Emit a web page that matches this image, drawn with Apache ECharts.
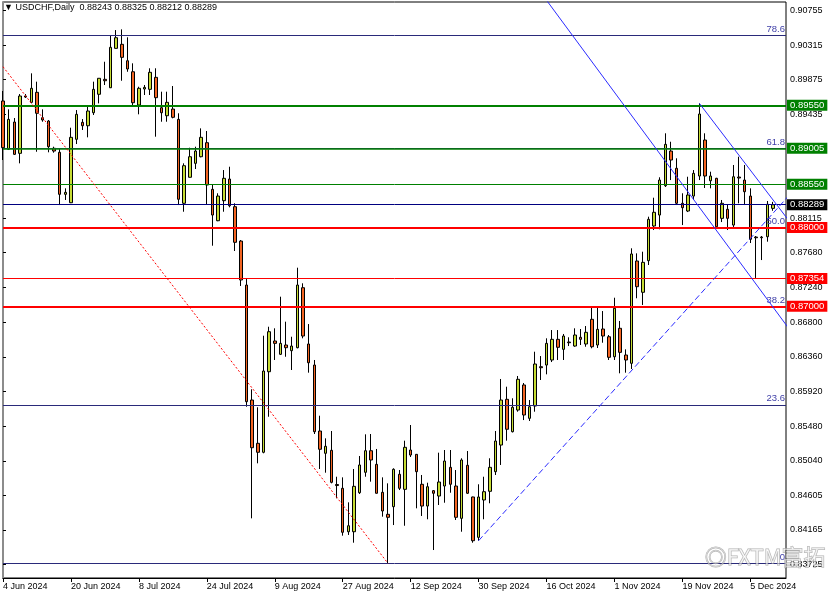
<!DOCTYPE html>
<html><head><meta charset="utf-8">
<script src="https://cdn.jsdelivr.net/npm/echarts@6/dist/echarts.min.js"></script>
<style>html,body{margin:0;padding:0;background:#fff}#c{width:832px;height:596px}</style>
</head><body><div id="c"></div>
<script>
const symbolName = 'USDCHF';
const timeframe = 'Daily';
// daily bars 4 Jun 2024 .. 11 Dec 2024 (index 0..136)
const opens = [0.89605,0.88992,0.89338,0.88941,0.89668,0.89588,0.89715,0.89393,0.89351,0.89005,
0.88954,0.88421,0.88314,0.89119,0.89334,0.89291,0.89456,0.89690,0.89880,0.89773,
0.90273,0.90324,0.90116,0.89976,0.89554,0.89757,0.89753,0.89905,0.89520,0.89418,
0.89503,0.89372,0.88307,0.88637,0.88814,0.88898,0.89076,0.88484,0.88086,0.88340,
0.88615,0.88264,0.87828,0.87270,0.85811,0.85262,0.85148,0.86170,0.86560,0.86391,
0.86509,0.86437,0.86475,0.87236,0.86522,0.86255,0.85418,0.85135,0.85173,0.84739,
0.84691,0.84140,0.84140,0.84635,0.84894,0.85168,0.84995,0.84640,0.84361,0.84458,
0.84869,0.84678,0.85177,0.85122,0.84742,0.84466,0.84661,0.84593,0.84720,0.84957,
0.84720,0.84310,0.84983,0.84581,0.84069,0.84543,0.84653,0.84902,0.85240,0.85820,
0.85409,0.85684,0.86002,0.85579,0.85735,0.86234,0.86255,0.86319,0.86581,0.86454,
0.86547,0.86496,0.86607,0.86522,0.86835,0.86509,0.86712,0.86614,0.86360,0.86721,
0.86382,0.86277,0.87575,0.87178,0.87579,0.88019,0.88158,0.88530,0.88970,0.88751,
0.88307,0.88209,0.88399,0.88653,0.89110,0.88593,0.88624,0.88116,0.88231,0.88031,
0.88640,0.88602,0.88399,0.87879,0.87870,0.87883,0.88243];
const closes = [0.89012,0.89372,0.88928,0.89668,0.89655,0.89766,0.89449,0.89364,0.89025,0.88970,
0.88421,0.88446,0.89144,0.89436,0.89291,0.89478,0.89753,0.89893,0.89862,0.90286,
0.90408,0.90159,0.90011,0.89583,0.89766,0.89778,0.89969,0.89647,0.89456,0.89588,
0.89398,0.88358,0.88784,0.88898,0.88970,0.89144,0.88539,0.88158,0.88399,0.88624,
0.88276,0.87812,0.87334,0.85790,0.85206,0.85148,0.86179,0.86678,0.86530,0.86530,
0.86475,0.86496,0.87270,0.86623,0.86284,0.85409,0.85186,0.85224,0.84767,0.84726,
0.84133,0.84216,0.84716,0.84987,0.85168,0.85050,0.84628,0.84403,0.84323,0.84932,
0.84691,0.85211,0.85113,0.84902,0.84466,0.84711,0.84628,0.84771,0.85037,0.84742,
0.84323,0.85050,0.84628,0.84026,0.84581,0.84648,0.84957,0.85291,0.85811,0.85440,
0.85719,0.86074,0.85621,0.85726,0.86268,0.86221,0.86530,0.86581,0.86480,0.86623,
0.86538,0.86636,0.86581,0.86670,0.86487,0.86708,0.86623,0.86353,0.86975,0.86416,
0.86319,0.87664,0.87249,0.87558,0.88104,0.88193,0.88602,0.89055,0.88856,0.88307,
0.88251,0.88412,0.88687,0.89440,0.88653,0.88653,0.88010,0.88307,0.88116,0.88644,
0.88628,0.88454,0.87850,0.87870,0.87879,0.88294,0.88289];
const lows = [0.88856,0.88983,0.88920,0.88814,0.89643,0.89575,0.88961,0.89342,0.88954,0.88949,
0.88285,0.88349,0.88310,0.89059,0.89237,0.89144,0.89427,0.89575,0.89808,0.89770,
0.90270,0.89862,0.89976,0.89554,0.89436,0.89681,0.89681,0.89152,0.89342,0.89342,
0.89385,0.88285,0.88200,0.88635,0.88742,0.88890,0.88294,0.87769,0.88080,0.88200,
0.88256,0.87702,0.87258,0.85726,0.84310,0.85008,0.85135,0.85599,0.86319,0.86382,
0.86360,0.86192,0.86467,0.86594,0.86158,0.85380,0.84936,0.84889,0.84754,0.84564,
0.84090,0.84099,0.84001,0.84619,0.84838,0.84775,0.84625,0.84331,0.83739,0.84225,
0.84669,0.84216,0.85088,0.84437,0.84340,0.84298,0.83908,0.84479,0.84508,0.84635,
0.84289,0.84140,0.84619,0.84001,0.84026,0.84298,0.84501,0.84860,0.84987,0.85295,
0.85400,0.85663,0.85557,0.85545,0.85663,0.86065,0.86137,0.86293,0.86319,0.86319,
0.86496,0.86487,0.86509,0.86487,0.86467,0.86471,0.86538,0.86319,0.86319,0.86150,
0.86158,0.86205,0.87102,0.87017,0.87524,0.87968,0.87977,0.88514,0.88602,0.88285,
0.88031,0.88196,0.88349,0.88602,0.88501,0.88497,0.87993,0.88069,0.87968,0.87993,
0.88307,0.88285,0.87803,0.87360,0.87587,0.87820,0.88212];
const highs = [0.89732,0.89499,0.89389,0.89693,0.89693,0.89956,0.89850,0.89499,0.89364,0.89025,
0.89005,0.88497,0.89266,0.89490,0.89376,0.89541,0.89850,0.89895,0.90103,0.90442,
0.90505,0.90514,0.90413,0.90083,0.89786,0.89808,0.90020,0.90020,0.89723,0.89723,
0.89795,0.89449,0.88814,0.89012,0.89025,0.89258,0.89224,0.88552,0.88434,0.88729,
0.88771,0.88307,0.87841,0.87346,0.85947,0.85719,0.86627,0.86741,0.86721,0.87122,
0.86805,0.86614,0.87490,0.87292,0.86775,0.86319,0.85612,0.85325,0.85418,0.84838,
0.84830,0.84513,0.84936,0.85101,0.85376,0.85380,0.85190,0.84830,0.84754,0.84945,
0.84923,0.85295,0.85494,0.85125,0.84860,0.84762,0.84669,0.85143,0.85177,0.85177,
0.84923,0.85072,0.85164,0.84585,0.84742,0.84838,0.85072,0.85418,0.86078,0.85980,
0.85833,0.86116,0.86027,0.85811,0.86424,0.86369,0.86594,0.86699,0.86699,0.86649,
0.86607,0.86721,0.86712,0.86750,0.86987,0.86987,0.86940,0.86636,0.87109,0.86814,
0.86454,0.87736,0.87672,0.87693,0.88137,0.88378,0.88637,0.89195,0.89088,0.88878,
0.88434,0.88644,0.88729,0.89575,0.89195,0.88708,0.88630,0.88349,0.88298,0.88793,
0.88898,0.88793,0.88497,0.87892,0.87892,0.88336,0.88325];

const xTickIndex = [0,12,24,36,48,60,72,84,96,108,120,132];
const xTickLabels = ['4 Jun 2024','20 Jun 2024','8 Jul 2024','24 Jul 2024','9 Aug 2024','27 Aug 2024',
  '12 Sep 2024','30 Sep 2024','16 Oct 2024','1 Nov 2024','19 Nov 2024','5 Dec 2024'];
const yTickValues = [0.90755,0.90315,0.89875,0.89435,0.88115,0.87680,0.87240,0.86800,0.86360,
  0.85920,0.85480,0.85040,0.84605,0.84165,0.83725];

const levelValues = [0.89550,0.89005,0.88550,0.88289,0.88000,0.87354,0.87000];
const levelTypes  = ['res','res','res','bid','sup','sup','sup'];
const fibPrices = [0.83738,0.85750,0.86994,0.88000,0.89006,0.90438];
const fibNames  = ['0','23.6','38.2','50.0','61.8','78.6'];

const fibBaseLine  = [[0,0.90040],[68,0.83739]];
const risingLine   = [[84,0.84026],[140,0.88500]];
const fallingLineA = [[95,0.90981],[140,0.86601]];
const fallingLineB = [[123,0.89575],[140,0.87974]];

const levelStyle = {
  res: {color:'#008000', width:[2,1.5,1]},
  sup: {color:'#ff0000', width:[2,1,2]},
  bid: {color:'#000080', width:[1]}
};
const tagBg = {res:'#008000', sup:'#ff0000', bid:'#000000'};

const FONT = '"Liberation Sans", Arial, sans-serif';
const n = opens.length;
const candleData = opens.map((o,i)=>[i,o,closes[i],lows[i],highs[i]]);

const resCount = {res:0,sup:0,bid:0};
const levelMarks = levelValues.map((v,k)=>{
  const t = levelTypes[k];
  const w = levelStyle[t].width[resCount[t]++];
  return {
    yAxis: v,
    lineStyle:{color:levelStyle[t].color, width:w, type:'solid'},
    label:{show:true, position:'end', distance:1, formatter: v.toFixed(5),
      color:'#fff', backgroundColor: tagBg[t], padding:[1,3,0,3],
      fontSize:9.5, fontFamily:FONT, lineHeight:10}
  };
});
const fibMarks = fibPrices.map((v,k)=>({
  yAxis: v,
  lineStyle:{color:'#2a2a7a', width:1, type:'solid'},
  label:{show:true, position:'insideEndTop', distance:1, formatter: fibNames[k],
    color:'#4040a8', fontSize:9.5, fontFamily:FONT}
}));

const last = n-1;
const header = '\u25BC ' + symbolName + ',' + timeframe + '  ' +
  [opens[last],highs[last],lows[last],closes[last]].map(v=>v.toFixed(5)).join(' ');

const chart = echarts.init(document.getElementById('c'), null, {renderer:'canvas'});
chart.setOption({
  animation:false,
  backgroundColor:'#fff',
  grid:{left:2, right:46, top:2, bottom:18, show:true, borderColor:'#000', borderWidth:1},
  xAxis:{
    type:'value', min:0, max:138.3, position:'bottom',
    axisLine:{show:true, onZero:false, lineStyle:{color:'#000', width:1}},
    axisTick:{show:true, length:4, lineStyle:{color:'#000'}, customValues:xTickIndex},
    axisLabel:{show:true, customValues:xTickIndex, align:'left', margin:4,
      fontSize:9, fontFamily:FONT, color:'#000',
      formatter:(v)=>xTickLabels[xTickIndex.indexOf(Math.round(v))] || ''},
    splitLine:{show:false}
  },
  yAxis:{
    type:'value', position:'right', min:0.83553, max:0.90861, scale:true,
    axisLine:{show:true, lineStyle:{color:'#8c8c8c', width:2}},
    axisTick:{show:true, length:3, lineStyle:{color:'#000'}, customValues:yTickValues},
    axisLabel:{show:true, customValues:yTickValues, margin:4, fontSize:9, fontFamily:FONT,
      color:'#000', formatter:(v)=>v.toFixed(5)},
    splitLine:{show:false}
  },
  series:[
    {type:'candlestick', data:candleData, barWidth:3, clip:false, z:2,
      itemStyle:{color:'#c6dc34', color0:'#f26422', borderColor:'#000', borderColor0:'#000',
        borderColorDoji:'#000', borderWidth:1}},
    {type:'line', data:[], z:4, silent:true,
      markLine:{symbol:['none','none'], precision:5, silent:true, animation:false,
        data: fibMarks.concat(levelMarks)}},
    {type:'line', data:fibBaseLine, showSymbol:false, silent:true, z:5,
      lineStyle:{color:'#ff0000', width:1, type:[2,2]}},
    {type:'line', data:risingLine, showSymbol:false, silent:true, z:5,
      lineStyle:{color:'#2b2bff', width:1, type:[6,3]}},
    {type:'line', data:fallingLineA, showSymbol:false, silent:true, z:5,
      lineStyle:{color:'#2b2bff', width:1}},
    {type:'line', data:fallingLineB, showSymbol:false, silent:true, z:5,
      lineStyle:{color:'#2b2bff', width:1}}
  ],
  graphic:[
    {type:'text', left:4, top:3, z:10, style:{text:header, font:'9px '+FONT, fill:'#000'}},
    {type:'text', right:6, bottom:28, z:10, style:{text:'\u25CEFXTM\u5BCC\u62D3',
      font:'22px "Noto Sans CJK SC", sans-serif', fill:'rgba(255,255,255,0.55)',
      stroke:'rgba(110,110,110,0.55)', lineWidth:1}}
  ]
});
</script></body></html>
